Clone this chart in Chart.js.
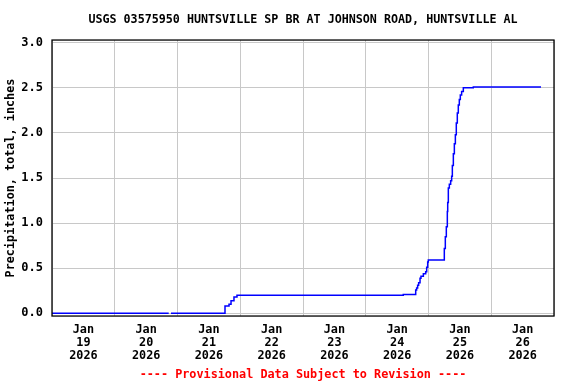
<!DOCTYPE html>
<html>
<head>
<meta charset="utf-8">
<script src="https://cdn.jsdelivr.net/npm/chart.js@4"></script>
<style>
html,body{margin:0;padding:0;background:#fff;}
#c{display:block;}
</style>
</head>
<body>
<canvas id="c" width="576" height="384"></canvas>
<script>
// Data: time in days since Jan 19 2026 00:00, cumulative precipitation (inches)
const dayOffsets = [0, 1.86, 1.865, 1.896, 2.757, 2.821, 2.853, 2.900, 2.948, 5.598,
  5.796, 5.811, 5.827, 5.843, 5.865, 5.880, 5.918, 5.955, 5.971, 5.987, 5.997,
  6.252, 6.268, 6.284, 6.300, 6.306, 6.316, 6.332, 6.353, 6.369, 6.380, 6.396,
  6.412, 6.428, 6.443, 6.459, 6.475, 6.491, 6.507, 6.528, 6.555, 6.714, 7.793];
const precipValues = [0, 0, null, 0, 0.08, 0.10, 0.14, 0.18, 0.20, 0.21,
  0.26, 0.28, 0.31, 0.34, 0.39, 0.41, 0.44, 0.46, 0.51, 0.57, 0.59,
  0.72, 0.85, 0.96, 1.13, 1.23, 1.39, 1.43, 1.47, 1.52, 1.64, 1.77,
  1.88, 1.98, 2.11, 2.22, 2.31, 2.37, 2.42, 2.46, 2.50, 2.51, 2.51];
const dayGridTicks = [0, 1, 2, 3, 4, 5, 6, 7, 8];
const dayLabelTicks = [0.5, 1.5, 2.5, 3.5, 4.5, 5.5, 6.5, 7.5];
const dayLabels = [
  ['Jan','19','2026'], ['Jan','20','2026'], ['Jan','21','2026'], ['Jan','22','2026'],
  ['Jan','23','2026'], ['Jan','24','2026'], ['Jan','25','2026'], ['Jan','26','2026']
];
const yTicks = [0, 0.5, 1.0, 1.5, 2.0, 2.5, 3.0];
const titleText = 'USGS 03575950 HUNTSVILLE SP BR AT JOHNSON ROAD, HUNTSVILLE AL';
const footerText = '---- Provisional Data Subject to Revision ----';
const yTitle = 'Precipitation, total, inches';

const FONT = "'DejaVu Sans Mono', 'Liberation Mono', monospace";
const points = dayOffsets.map((d, i) => ({x: d, y: precipValues[i]}));

const framePlugin = {
  id: 'frame',
  afterDatasetsDraw(chart) {
    const a = chart.chartArea, ctx = chart.ctx;
    ctx.save();
    ctx.strokeStyle = '#000';
    ctx.lineWidth = 1.3;
    ctx.strokeRect(a.left, a.top, a.right - a.left, a.bottom - a.top);
    ctx.restore();
  }
};

new Chart(document.getElementById('c'), {
  type: 'line',
  data: {
    datasets: [{
      data: points,
      borderColor: '#0000ff',
      borderWidth: 1.5,
      pointRadius: 0,
      stepped: true,
      spanGaps: false,
      fill: false,
      tension: 0
    }]
  },
  options: {
    responsive: false,
    animation: false,
    events: [],
    layout: {padding: {left: 0, right: 22, top: 0, bottom: 0}},
    plugins: {
      legend: {display: false},
      tooltip: {enabled: false},
      title: {
        display: true, text: titleText, fullSize: false, color: '#000',
        font: {family: FONT, size: 11.7, weight: 'bold', lineHeight: 1.2},
        padding: {top: 13, bottom: 13}
      },
      subtitle: {
        display: true, position: 'bottom', text: footerText, fullSize: false, color: '#ff0000',
        font: {family: FONT, size: 11.8, weight: 'bold', lineHeight: 1.2},
        padding: {top: 4, bottom: 1.9}
      }
    },
    scales: {
      x: {
        type: 'linear', position: 'bottom', min: 0, max: 8,
        afterBuildTicks(s) { s.ticks = dayGridTicks.map(v => ({value: v})); },
        afterFit(s) { s.height = 0; },
        grid: {color: '#c8c8c8', lineWidth: 1, drawTicks: false},
        border: {display: false},
        ticks: {display: false}
      },
      xl: {
        type: 'linear', position: 'bottom', min: 0, max: 8,
        afterBuildTicks(s) { s.ticks = dayLabelTicks.map(v => ({value: v})); },
        afterFit(s) { s.height = 47.9; },
        grid: {display: false, drawTicks: false},
        border: {display: false},
        ticks: {
          autoSkip: false, maxRotation: 0, minRotation: 0, padding: 7.5, color: '#000',
          font: {family: FONT, size: 11.8, weight: 'bold', lineHeight: '13px'},
          callback: (v, i) => dayLabels[i]
        }
      },
      y: {
        type: 'linear', position: 'left', min: -0.03, max: 3.03,
        afterBuildTicks(s) { s.ticks = yTicks.map(v => ({value: v})); },
        afterFit(s) { s.width = 52; },
        grid: {color: '#c8c8c8', lineWidth: 1, drawTicks: false},
        border: {display: false},
        ticks: {
          padding: 9, color: '#000',
          font: {family: FONT, size: 12, weight: 'bold'},
          callback: v => Number(v).toFixed(1)
        },
        title: {
          display: true, text: yTitle, color: '#000',
          font: {family: FONT, size: 11.8, weight: 'bold', lineHeight: 1.2},
          padding: {top: 4, bottom: 0}
        }
      }
    }
  },
  plugins: [framePlugin]
});
</script>
</body>
</html>
